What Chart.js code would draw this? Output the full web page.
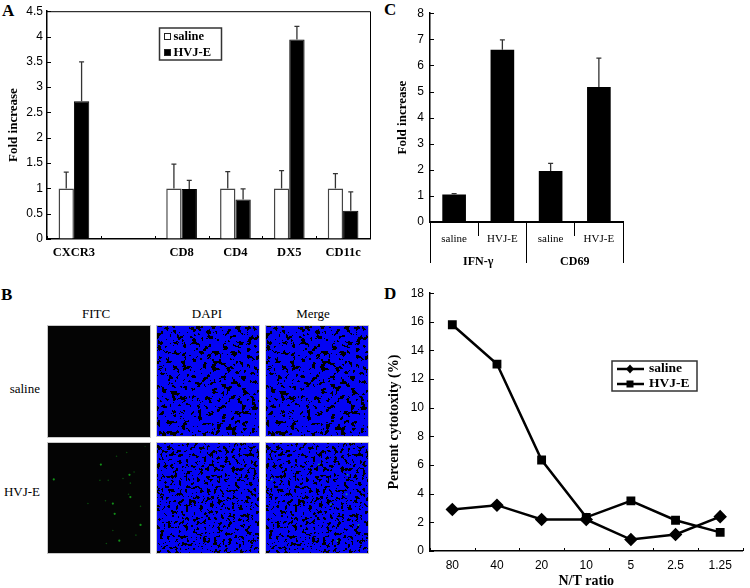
<!DOCTYPE html>
<html>
<head>
<meta charset="utf-8">
<title>HVJ-E figure</title>
<script src="https://cdn.jsdelivr.net/npm/chart.js@4/dist/chart.umd.min.js"></script>
<style>
  html, body { margin: 0; background: #fff; }
  body { position: relative; width: 750px; height: 588px; overflow: hidden; font-family: "Liberation Serif", "Times New Roman", serif; color: #000; filter: blur(0.35px); }
  canvas, .txt, .cell { position: absolute; }
  .letter { font-weight: bold; font-size: 17px; line-height: 18px; }
  .hd { font-size: 13px; line-height: 14px; width: 100px; text-align: center; }
  .row { font-size: 13px; line-height: 14px; width: 60px; text-align: right; }
  .cell { box-sizing: border-box; border: 1px solid #c8c8c8; overflow: hidden; }
  .cell svg { display: block; }
  .blue { background: #0404f4; }
  .dark { background: #040404; }
</style>
</head>
<body>

<div class="txt letter" style="left:2px;top:2px">A</div>
<div class="txt letter" style="left:384px;top:1px">C</div>
<div class="txt letter" style="left:1px;top:286px">B</div>
<div class="txt letter" style="left:384px;top:285px">D</div>

<div class="txt hd" style="left:46px;top:307px">FITC</div>
<div class="txt hd" style="left:157px;top:307px">DAPI</div>
<div class="txt hd" style="left:263px;top:307px">Merge</div>
<div class="txt row" style="left:-20px;top:382px">saline</div>
<div class="txt row" style="left:-20px;top:485px">HVJ-E</div>

<!-- stand-in texture for the micrographs, not data -->
<svg width="0" height="0" style="position:absolute">
  <filter id="speckA" x="0" y="0" width="100%" height="100%" color-interpolation-filters="sRGB">
    <feTurbulence type="fractalNoise" baseFrequency="0.2" numOctaves="3" seed="7"/>
    <feColorMatrix values="0 0 0 0 0  0 0 0 0 0  0 0 0 0 0  1 0 0 0 0"/>
    <feComponentTransfer><feFuncA type="discrete" tableValues="0 0 0 0 0 0 0 0 0 0 0 0 1 1 1 1 1 1 1 1"/></feComponentTransfer>
  </filter>
  <filter id="speckB" x="0" y="0" width="100%" height="100%" color-interpolation-filters="sRGB">
    <feTurbulence type="fractalNoise" baseFrequency="0.28" numOctaves="3" seed="3"/>
    <feColorMatrix values="0 0 0 0 0  0 0 0 0 0  0 0 0 0 0  1 0 0 0 0"/>
    <feComponentTransfer><feFuncA type="discrete" tableValues="0 0 0 0 0 0 0 0 0 0 0 0 1 1 1 1 1 1 1 1"/></feComponentTransfer>
  </filter>
</svg>

<div class="cell dark" style="left:47px;top:325px;width:104px;height:113px"></div>
<div class="cell blue" style="left:156px;top:325px;width:104px;height:112px"><svg width="104" height="112"><rect width="104" height="112" filter="url(#speckA)"/></svg></div>
<div class="cell blue" style="left:265px;top:325px;width:104px;height:112px"><svg width="104" height="112"><rect width="104" height="112" filter="url(#speckA)"/></svg></div>
<div class="cell dark" style="left:47px;top:442px;width:104px;height:112px"></div>
<div class="cell blue" style="left:156px;top:442px;width:104px;height:112px"><svg width="104" height="112"><rect width="104" height="112" filter="url(#speckB)"/></svg></div>
<div class="cell blue" style="left:265px;top:442px;width:104px;height:112px"><svg width="104" height="112"><rect width="104" height="112" filter="url(#speckB)"/></svg></div>

<canvas id="chartA" width="375" height="280" style="left:0;top:0"></canvas>
<canvas id="chartC" width="375" height="280" style="left:375px;top:0"></canvas>
<canvas id="chartD" width="375" height="308" style="left:375px;top:280px"></canvas>
<canvas id="dotsFitc" width="104" height="112" style="left:47px;top:442px"></canvas>
<canvas id="dotsMerge" width="104" height="112" style="left:265px;top:442px"></canvas>

<script>
// panel A
const markersA = ['CXCR3', '', 'CD8', 'CD4', 'DX5', 'CD11c'];
const salineA = [1, null, 1, 1, 1, 1];
const salineTopA = [1.32, null, 1.48, 1.33, 1.35, 1.29];
const hvjA = [2.72, null, 0.99, 0.78, 3.94, 0.56];
const hvjTopA = [3.5, null, 1.16, 0.99, 4.2, 0.93];

// panel C
const groupsC = ['saline', 'HVJ-E', 'saline', 'HVJ-E'];
const parentsC = ['IFN-γ', 'CD69'];
const valuesC = [1.05, 6.6, 1.95, 5.17];
const topsC = [1.09, 6.98, 2.25, 6.28];

// panel D
const ratiosD = ['80', '40', '20', '10', '5', '2.5', '1.25'];
const salineD = [2.9, 3.2, 2.2, 2.2, 0.8, 1.15, 2.4];
const hvjD = [15.8, 13.05, 6.35, 2.35, 3.5, 2.15, 1.3];

// panel B green spots, read in pixels of the micrograph
const fitcBrightX = [3, 54, 85, 67, 86, 97, 74, 69];
const fitcBrightY = [36, 20, 31, 62, 55, 85, 102, 73];
const fitcDimX = [53, 84, 59, 40, 92, 67, 86, 62, 82, 71, 102, 78, 90, 97, 60];
const fitcDimY = [37, 52, 59, 62, 96, 91, 40, 37, 7, 11, 0, 35, 28, 65, 105];
const mergeX = [3, 54, 85, 67, 97, 74, 84];
const mergeY = [36, 20, 31, 63, 85, 102, 52];

const SERIF = '"Liberation Serif", "Times New Roman", serif';
const SANS = '"Liberation Sans", Arial, sans-serif';

// error bars, inward ticks, frame and boxed legend are not in Chart.js
const figPlugin = {
  id: 'fig',
  afterDatasetsDraw(chart) {
    const opts = chart.options.plugins.fig;
    const ctx = chart.ctx;
    const xs = chart.scales.x, ys = chart.scales.y;
    ctx.save();
    ctx.strokeStyle = '#000';

    (opts.tops || []).forEach((tops, d) => {
      const meta = chart.getDatasetMeta(d);
      tops.forEach((top, i) => {
        if (top === null) return;
        const x = meta.data[i].x, y0 = meta.data[i].y, y1 = ys.getPixelForValue(top);
        ctx.strokeStyle = '#333';
        ctx.lineWidth = 1.3;
        ctx.beginPath();
        ctx.moveTo(x, y0); ctx.lineTo(x, y1);
        ctx.moveTo(x - 2.5, y1); ctx.lineTo(x + 2.5, y1);
        ctx.stroke();
      });
    });

    ctx.strokeStyle = '#000';
    ctx.lineWidth = 1;
    ys.ticks.forEach(t => {
      const y = Math.round(ys.getPixelForValue(t.value)) + 0.5;
      ctx.beginPath(); ctx.moveTo(ys.right, y); ctx.lineTo(ys.right + 4, y); ctx.stroke();
    });
    if (opts.innerX) {
      for (let i = 0; i <= xs.ticks.length; i++) {
        const x = Math.round(xs.getPixelForValue(i - 0.5)) + 0.5;
        ctx.beginPath(); ctx.moveTo(x, xs.top); ctx.lineTo(x, xs.top - 3); ctx.stroke();
      }
    }
    if (opts.frame) {
      const a = chart.chartArea;
      ctx.beginPath();
      ctx.moveTo(a.left, a.top + 0.5); ctx.lineTo(a.right + 0.5, a.top + 0.5); ctx.lineTo(a.right + 0.5, a.bottom);
      ctx.stroke();
    }

    const box = opts.box;
    if (box) {
      ctx.strokeStyle = '#333';
      ctx.lineWidth = 1.5;
      ctx.fillStyle = '#fff';
      ctx.fillRect(box.x, box.y, box.w, box.h);
      ctx.strokeRect(box.x, box.y, box.w, box.h);
      ctx.font = 'bold ' + box.size + 'px ' + SERIF;
      ctx.textBaseline = 'middle';
      chart.data.datasets.forEach((ds, d) => {
        const cy = box.y + box.first + d * box.step;
        if (box.line) {
          ctx.strokeStyle = '#000';
          ctx.lineWidth = 2.5;
          ctx.beginPath(); ctx.moveTo(box.x + 5, cy); ctx.lineTo(box.x + 32, cy); ctx.stroke();
          ctx.fillStyle = '#000';
          ctx.beginPath();
          if (d === 0) {
            ctx.moveTo(box.x + 18, cy - 4.5); ctx.lineTo(box.x + 22, cy); ctx.lineTo(box.x + 18, cy + 4.5); ctx.lineTo(box.x + 14, cy);
          } else {
            ctx.rect(box.x + 14.5, cy - 3.5, 7, 7);
          }
          ctx.closePath(); ctx.fill();
        } else {
          ctx.fillStyle = ds.backgroundColor;
          ctx.strokeStyle = '#222';
          ctx.lineWidth = 1;
          ctx.fillRect(box.x + 5, cy - 3, 6, 6);
          ctx.strokeRect(box.x + 5, cy - 3, 6, 6);
        }
        ctx.fillStyle = '#000';
        ctx.fillText(ds.label, box.x + box.text, cy);
      });
    }
    ctx.restore();
  }
};

function yAxis(max, step, width, title, titleSize, titlePad, pad) {
  return {
    min: 0, max: max,
    afterFit: s => { s.width = width; },
    grid: { drawOnChartArea: false, drawTicks: false },
    border: { color: '#000', width: 1.5 },
    ticks: { stepSize: step, padding: pad, color: '#000', font: { family: SANS, size: 12 }, callback: v => String(v) },
    title: { display: true, text: title, color: '#000', padding: { top: titlePad, bottom: 0 }, font: { family: SERIF, size: titleSize, weight: 'bold' } }
  };
}

new Chart(document.getElementById('chartA'), {
  type: 'bar',
  data: {
    labels: markersA,
    datasets: [
      { label: 'saline', data: salineA, backgroundColor: '#fff', borderColor: '#444', borderWidth: 1.5 },
      { label: 'HVJ-E', data: hvjA, backgroundColor: '#000', borderColor: '#000', borderWidth: 1 }
    ]
  },
  options: {
    responsive: false, animation: false, devicePixelRatio: 1,
    layout: { padding: { top: 11, right: 5, left: 0, bottom: 0 } },
    categoryPercentage: 0.57, barPercentage: 1,
    plugins: {
      legend: { display: false }, tooltip: { enabled: false },
      fig: { tops: [salineTopA, hvjTopA], innerX: true, frame: true,
        box: { x: 159.5, y: 28, w: 62, h: 32, size: 12.5, first: 8.5, step: 16, text: 14 } }
    },
    scales: {
      x: {
        afterFit: s => { s.height = 41; },
        grid: { drawOnChartArea: false, drawTicks: false },
        border: { color: '#000', width: 1.5 },
        ticks: { padding: 6, color: '#000', autoSkip: false, maxRotation: 0, font: { family: SERIF, size: 12.5, weight: 'bold' } }
      },
      y: yAxis(4.5, 0.5, 47, 'Fold increase', 13, 6, 4)
    }
  },
  plugins: [figPlugin]
});

new Chart(document.getElementById('chartC'), {
  type: 'bar',
  data: {
    labels: groupsC,
    datasets: [{ label: 'Fold increase', data: valuesC, backgroundColor: '#000', borderColor: '#000' }]
  },
  options: {
    responsive: false, animation: false, devicePixelRatio: 1,
    layout: { padding: { top: 13, right: 127, left: 0, bottom: 0 } },
    categoryPercentage: 0.49, barPercentage: 1,
    plugins: {
      legend: { display: false }, tooltip: { enabled: false },
      fig: { tops: [topsC] }
    },
    scales: {
      x: {
        afterFit: s => { s.height = 14; },
        grid: { drawOnChartArea: false, tickLength: 14, color: '#000' },
        border: { color: '#000', width: 2 },
        ticks: { mirror: true, padding: -24, color: '#000', autoSkip: false, maxRotation: 0, font: { family: SERIF, size: 11 } }
      },
      x2: {
        type: 'category', labels: parentsC, position: 'bottom', offset: true,
        afterFit: s => { s.height = 44; },
        grid: { offset: true, drawOnChartArea: false, tickLength: 27, color: '#000' },
        border: { display: false },
        ticks: { mirror: true, padding: -33, color: '#000', autoSkip: false, maxRotation: 0, font: { family: SERIF, size: 12, weight: 'bold' } }
      },
      y: yAxis(8, 1, 55, 'Fold increase', 13, 20, 6)
    }
  },
  plugins: [figPlugin]
});

new Chart(document.getElementById('chartD'), {
  type: 'line',
  data: {
    labels: ratiosD,
    datasets: [
      { label: 'saline', data: salineD, borderColor: '#000', backgroundColor: '#000', borderWidth: 2.5, tension: 0, pointStyle: 'rectRot', pointRadius: 5 },
      { label: 'HVJ-E', data: hvjD, borderColor: '#000', backgroundColor: '#000', borderWidth: 2.5, tension: 0, pointStyle: 'rect', pointRadius: 4.5 }
    ]
  },
  options: {
    responsive: false, animation: false, devicePixelRatio: 1,
    layout: { padding: { top: 11, right: 0, left: 0, bottom: 0 } },
    plugins: {
      legend: { display: false }, tooltip: { enabled: false },
      fig: { innerX: true,
        box: { x: 237, y: 81, w: 85, h: 30, size: 13.5, first: 8, step: 15, text: 37, line: true } }
    },
    scales: {
      x: {
        offset: true,
        afterFit: s => { s.height = 37; },
        grid: { offset: true, drawOnChartArea: false, drawTicks: false },
        border: { color: '#000', width: 1.5 },
        ticks: { padding: 7, color: '#000', autoSkip: false, maxRotation: 0, font: { family: SANS, size: 12 } },
        title: { display: true, text: 'N/T ratio', color: '#000', padding: { top: -4, bottom: 0 }, font: { family: SERIF, size: 14, weight: 'bold', lineHeight: 1 } }
      },
      y: yAxis(18, 2, 55, 'Percent cytotoxity (%)', 14, 11, 6)
    }
  },
  plugins: [figPlugin]
});

function spots(id, sets) {
  new Chart(document.getElementById(id), {
    type: 'scatter',
    data: {
      datasets: sets.map(s => ({
        data: s.xs.map((x, i) => ({ x: x, y: s.ys[i] })),
        backgroundColor: s.color, borderWidth: 0, pointRadius: s.r
      }))
    },
    options: {
      responsive: false, animation: false, devicePixelRatio: 1,
      plugins: { legend: { display: false }, tooltip: { enabled: false } },
      scales: {
        x: { display: false, min: 0, max: 104 },
        y: { display: false, min: 0, max: 112, reverse: true }
      }
    }
  });
}

spots('dotsFitc', [
  { xs: fitcDimX, ys: fitcDimY, color: '#0a4a0e', r: 0.8 },
  { xs: fitcBrightX, ys: fitcBrightY, color: '#129018', r: 1.1 }
]);
spots('dotsMerge', [
  { xs: mergeX, ys: mergeY, color: '#128a7a', r: 1 }
]);
</script>
</body>
</html>
